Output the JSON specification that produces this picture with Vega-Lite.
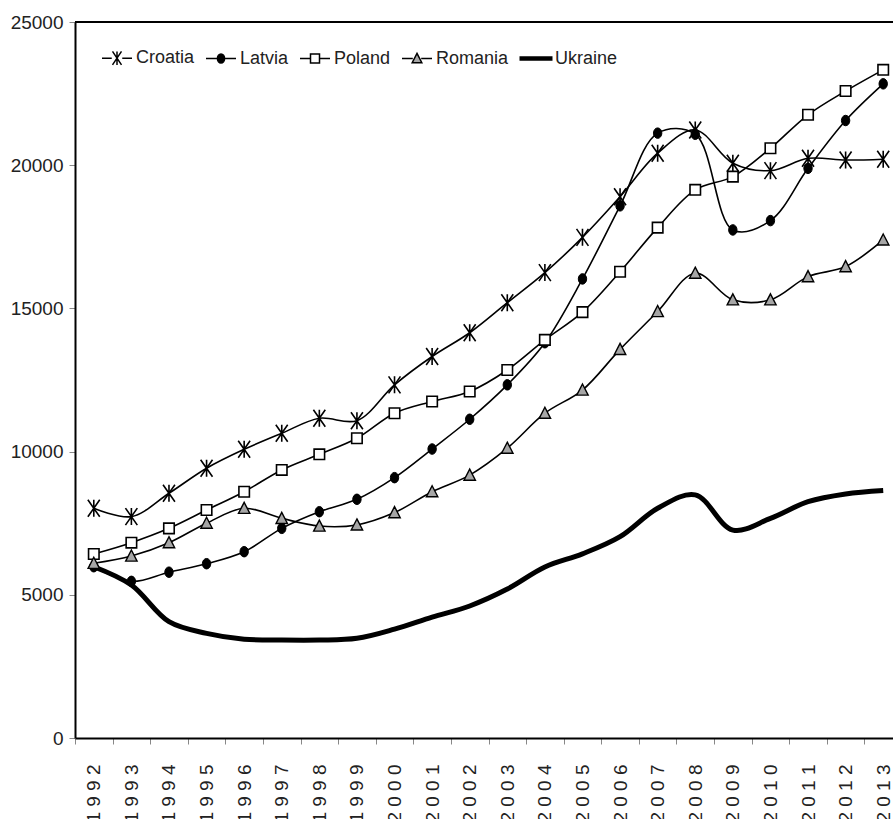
{
  "$schema": "https://vega.github.io/schema/vega-lite/v6.json",
  "width": 818,
  "height": 716,
  "autosize": {"type": "none"},
  "padding": {"left": 75, "top": 22, "right": 0, "bottom": 81},
  "background": "white",
  "config": {
    "view": {"stroke": null},
    "font": "Liberation Sans, Arial, sans-serif",
    "axis": {"labelFont": "Liberation Sans, Arial, sans-serif", "labelColor": "#222", "grid": false, "title": null},
    "legend": {"symbolStrokeWidth": 1.5, "symbolStrokeColor": "black"}
  },
  "data": {
    "values": [
      {"year": "1992", "country": "Croatia", "value": 8020},
      {"year": "1993", "country": "Croatia", "value": 7730},
      {"year": "1994", "country": "Croatia", "value": 8545},
      {"year": "1995", "country": "Croatia", "value": 9420},
      {"year": "1996", "country": "Croatia", "value": 10080},
      {"year": "1997", "country": "Croatia", "value": 10640},
      {"year": "1998", "country": "Croatia", "value": 11165},
      {"year": "1999", "country": "Croatia", "value": 11080},
      {"year": "2000", "country": "Croatia", "value": 12330},
      {"year": "2001", "country": "Croatia", "value": 13320},
      {"year": "2002", "country": "Croatia", "value": 14150},
      {"year": "2003", "country": "Croatia", "value": 15200},
      {"year": "2004", "country": "Croatia", "value": 16250},
      {"year": "2005", "country": "Croatia", "value": 17480},
      {"year": "2006", "country": "Croatia", "value": 18900},
      {"year": "2007", "country": "Croatia", "value": 20420},
      {"year": "2008", "country": "Croatia", "value": 21230},
      {"year": "2009", "country": "Croatia", "value": 20070},
      {"year": "2010", "country": "Croatia", "value": 19810},
      {"year": "2011", "country": "Croatia", "value": 20240},
      {"year": "2012", "country": "Croatia", "value": 20180},
      {"year": "2013", "country": "Croatia", "value": 20210},
      {"year": "1992", "country": "Latvia", "value": 5980},
      {"year": "1993", "country": "Latvia", "value": 5470},
      {"year": "1994", "country": "Latvia", "value": 5790},
      {"year": "1995", "country": "Latvia", "value": 6085},
      {"year": "1996", "country": "Latvia", "value": 6505},
      {"year": "1997", "country": "Latvia", "value": 7320},
      {"year": "1998", "country": "Latvia", "value": 7900},
      {"year": "1999", "country": "Latvia", "value": 8335},
      {"year": "2000", "country": "Latvia", "value": 9090},
      {"year": "2001", "country": "Latvia", "value": 10090},
      {"year": "2002", "country": "Latvia", "value": 11130},
      {"year": "2003", "country": "Latvia", "value": 12330},
      {"year": "2004", "country": "Latvia", "value": 13800},
      {"year": "2005", "country": "Latvia", "value": 16030},
      {"year": "2006", "country": "Latvia", "value": 18580},
      {"year": "2007", "country": "Latvia", "value": 21120},
      {"year": "2008", "country": "Latvia", "value": 21080},
      {"year": "2009", "country": "Latvia", "value": 17740},
      {"year": "2010", "country": "Latvia", "value": 18065},
      {"year": "2011", "country": "Latvia", "value": 19890},
      {"year": "2012", "country": "Latvia", "value": 21560},
      {"year": "2013", "country": "Latvia", "value": 22840},
      {"year": "1992", "country": "Poland", "value": 6425},
      {"year": "1993", "country": "Poland", "value": 6820},
      {"year": "1994", "country": "Poland", "value": 7320},
      {"year": "1995", "country": "Poland", "value": 7960},
      {"year": "1996", "country": "Poland", "value": 8600},
      {"year": "1997", "country": "Poland", "value": 9360},
      {"year": "1998", "country": "Poland", "value": 9905},
      {"year": "1999", "country": "Poland", "value": 10465},
      {"year": "2000", "country": "Poland", "value": 11340},
      {"year": "2001", "country": "Poland", "value": 11750},
      {"year": "2002", "country": "Poland", "value": 12100},
      {"year": "2003", "country": "Poland", "value": 12850},
      {"year": "2004", "country": "Poland", "value": 13900},
      {"year": "2005", "country": "Poland", "value": 14870},
      {"year": "2006", "country": "Poland", "value": 16280},
      {"year": "2007", "country": "Poland", "value": 17820},
      {"year": "2008", "country": "Poland", "value": 19140},
      {"year": "2009", "country": "Poland", "value": 19600},
      {"year": "2010", "country": "Poland", "value": 20590},
      {"year": "2011", "country": "Poland", "value": 21760},
      {"year": "2012", "country": "Poland", "value": 22590},
      {"year": "2013", "country": "Poland", "value": 23330},
      {"year": "1992", "country": "Romania", "value": 6100},
      {"year": "1993", "country": "Romania", "value": 6355},
      {"year": "1994", "country": "Romania", "value": 6820},
      {"year": "1995", "country": "Romania", "value": 7500},
      {"year": "1996", "country": "Romania", "value": 8020},
      {"year": "1997", "country": "Romania", "value": 7670},
      {"year": "1998", "country": "Romania", "value": 7400},
      {"year": "1999", "country": "Romania", "value": 7440},
      {"year": "2000", "country": "Romania", "value": 7870},
      {"year": "2001", "country": "Romania", "value": 8600},
      {"year": "2002", "country": "Romania", "value": 9180},
      {"year": "2003", "country": "Romania", "value": 10120},
      {"year": "2004", "country": "Romania", "value": 11340},
      {"year": "2005", "country": "Romania", "value": 12150},
      {"year": "2006", "country": "Romania", "value": 13570},
      {"year": "2007", "country": "Romania", "value": 14890},
      {"year": "2008", "country": "Romania", "value": 16230},
      {"year": "2009", "country": "Romania", "value": 15300},
      {"year": "2010", "country": "Romania", "value": 15300},
      {"year": "2011", "country": "Romania", "value": 16110},
      {"year": "2012", "country": "Romania", "value": 16460},
      {"year": "2013", "country": "Romania", "value": 17390},
      {"year": "1992", "country": "Ukraine", "value": 5980},
      {"year": "1993", "country": "Ukraine", "value": 5340},
      {"year": "1994", "country": "Ukraine", "value": 4060},
      {"year": "1995", "country": "Ukraine", "value": 3655},
      {"year": "1996", "country": "Ukraine", "value": 3450},
      {"year": "1997", "country": "Ukraine", "value": 3420},
      {"year": "1998", "country": "Ukraine", "value": 3420},
      {"year": "1999", "country": "Ukraine", "value": 3480},
      {"year": "2000", "country": "Ukraine", "value": 3800},
      {"year": "2001", "country": "Ukraine", "value": 4220},
      {"year": "2002", "country": "Ukraine", "value": 4610},
      {"year": "2003", "country": "Ukraine", "value": 5200},
      {"year": "2004", "country": "Ukraine", "value": 5970},
      {"year": "2005", "country": "Ukraine", "value": 6430},
      {"year": "2006", "country": "Ukraine", "value": 7030},
      {"year": "2007", "country": "Ukraine", "value": 8020},
      {"year": "2008", "country": "Ukraine", "value": 8490},
      {"year": "2009", "country": "Ukraine", "value": 7260},
      {"year": "2010", "country": "Ukraine", "value": 7670},
      {"year": "2011", "country": "Ukraine", "value": 8250},
      {"year": "2012", "country": "Ukraine", "value": 8520},
      {"year": "2013", "country": "Ukraine", "value": 8640}
    ]
  },
  "encoding": {
    "x": {
      "field": "year", "type": "ordinal",
      "scale": {"range": [0, 827], "paddingInner": 0, "paddingOuter": 0},
      "axis": {
        "labelAngle": -90, "labelFontSize": 19, "labelPadding": 20,
        "labelExpr": "join(split(datum.label, ''), ' ')",
        "tickBand": "extent", "tickSize": 6, "tickColor": "#888", "tickWidth": 1,
        "domainColor": "black", "domainWidth": 2
      }
    },
    "y": {
      "field": "value", "type": "quantitative",
      "scale": {"domain": [0, 25000], "nice": false},
      "axis": {
        "values": [0, 5000, 10000, 15000, 20000, 25000], "format": "d",
        "labelFontSize": 19, "labelPadding": 6,
        "tickSize": 6, "tickColor": "#888", "tickWidth": 1,
        "domainColor": "black", "domainWidth": 2
      }
    }
  },
  "layer": [
    {
      "mark": {"type": "rule", "color": "black", "strokeWidth": 2},
      "encoding": {"y": {"datum": 25000}, "x": null}
    },
    {
      "transform": [{"filter": "datum.country == 'Ukraine'"}],
      "mark": {"type": "line", "color": "black", "strokeWidth": 5, "interpolate": "catmull-rom"}
    },
    {
      "transform": [{"filter": "datum.country != 'Ukraine'"}],
      "mark": {"type": "line", "color": "black", "strokeWidth": 1.6, "interpolate": "catmull-rom"},
      "encoding": {"detail": {"field": "country"}}
    },
    {
      "transform": [{"filter": "datum.country == 'Croatia'"}],
      "mark": {"type": "point", "shape": "M-0.7,-1L0.7,1M0.7,-1L-0.7,1M0,-1V1", "size": 289, "stroke": "black", "strokeWidth": 1.6, "filled": false, "opacity": 1}
    },
    {
      "transform": [{"filter": "datum.country == 'Latvia'"}],
      "mark": {"type": "point", "shape": "M-0.8,0A0.8,1 0 1 0 0.8,0A0.8,1 0 1 0 -0.8,0Z", "size": 110, "fill": "black", "stroke": "black", "strokeWidth": 1, "filled": true, "opacity": 1}
    },
    {
      "transform": [{"filter": "datum.country == 'Poland'"}],
      "mark": {"type": "point", "shape": "square", "size": 110, "fill": "white", "stroke": "black", "strokeWidth": 1.6, "filled": true, "opacity": 1}
    },
    {
      "transform": [{"filter": "datum.country == 'Romania'"}],
      "mark": {"type": "point", "shape": "M0,-1L0.95,0.85H-0.95Z", "size": 144, "fill": "#a6a6a6", "stroke": "black", "strokeWidth": 1.4, "filled": true, "opacity": 1}
    },
    {
      "transform": [{"filter": "datum.country == 'none'"}],
      "mark": {"type": "point", "filled": false, "strokeWidth": 1.5, "size": 900, "opacity": 1},
      "encoding": {
        "x": null, "y": null,
        "shape": {
          "field": "country", "type": "nominal",
          "scale": {
            "domain": ["Croatia", "Latvia", "Poland", "Romania", "Ukraine"],
            "range": [
              "M-1,0H-0.35M0.35,0H1M-0.3,-0.45L0.3,0.45M0.3,-0.45L-0.3,0.45M0,-0.45V0.45",
              "M-1,0H1M-0.24,0A0.24,0.3 0 1 0 0.24,0A0.24,0.3 0 1 0 -0.24,0Z",
              "M-1,0H-0.3M0.3,0H1M-0.3,-0.3H0.3V0.3H-0.3Z",
              "M-1,0H-0.28M0.28,0H1M0,-0.34L0.32,0.28H-0.32Z",
              "M-1.05,-0.1H1.05V0.1H-1.05Z"
            ]
          },
          "legend": {
            "orient": "none", "legendX": 26, "legendY": 20, "direction": "horizontal",
            "title": null, "labelFontSize": 18, "labelColor": "#222",
            "labelFont": "Liberation Sans, Arial, sans-serif",
            "symbolSize": 900, "labelOffset": 3, "columnPadding": 8
          }
        },
        "fill": {
          "field": "country", "type": "nominal",
          "scale": {
            "domain": ["Croatia", "Latvia", "Poland", "Romania", "Ukraine"],
            "range": ["transparent", "black", "white", "#a6a6a6", "black"]
          },
          "legend": {
            "orient": "none", "legendX": 26, "legendY": 20, "direction": "horizontal",
            "title": null, "labelFontSize": 18, "labelColor": "#222",
            "labelFont": "Liberation Sans, Arial, sans-serif",
            "symbolSize": 900, "labelOffset": 3, "columnPadding": 8
          }
        },
        "stroke": {
          "field": "country", "type": "nominal",
          "scale": {
            "domain": ["Croatia", "Latvia", "Poland", "Romania", "Ukraine"],
            "range": ["black", "black", "black", "black", "black"]
          },
          "legend": {
            "orient": "none", "legendX": 26, "legendY": 20, "direction": "horizontal",
            "title": null, "labelFontSize": 18, "labelColor": "#222",
            "labelFont": "Liberation Sans, Arial, sans-serif",
            "symbolSize": 900, "labelOffset": 3, "columnPadding": 8
          }
        }
      }
    }
  ]
}
